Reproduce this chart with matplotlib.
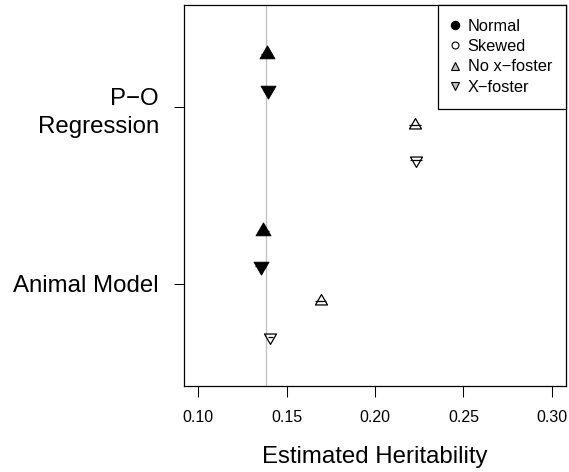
import matplotlib
matplotlib.use("Agg")
import matplotlib.pyplot as plt
from matplotlib.lines import Line2D
import numpy as np

# ---- data ----
methods = ["Animal Model", "P\u2212O\nRegression"]
method_pos = [1, 2]
# series: Normal/No x-foster, Normal/X-foster, Skewed/No x-foster, Skewed/X-foster
series_names = ["Normal, No x-foster", "Normal, X-foster", "Skewed, No x-foster", "Skewed, X-foster"]
offsets = [0.3, 0.1, -0.1, -0.3]
# estimated heritability per method (Animal Model, P-O Regression)
h_normal_nox = [0.1368, 0.1387]
h_normal_xf = [0.1353, 0.1395]
h_skew_nox = [0.1693, 0.2227]
h_skew_xf = [0.1409, 0.2232]
# half-width of the small horizontal interval drawn through each point
ci_normal_nox = [0.003, 0.003]
ci_normal_xf = [0.003, 0.003]
ci_skew_nox = [0.0032, 0.0032]
ci_skew_xf = [0.0014, 0.0033]
true_h = 0.1383
xticks = [0.10, 0.15, 0.20, 0.25, 0.30]
xtick_labels = ["0.10", "0.15", "0.20", "0.25", "0.30"]
legend_labels = ["Normal", "Skewed", "No x\u2212foster", "X\u2212foster"]

plt.rcParams['font.family'] = ['Liberation Sans', 'DejaVu Sans']

fig = plt.figure(figsize=(5.69, 4.72), dpi=100)
W, H = 569, 472
ax = fig.add_axes([184 / W, (H - 386) / H, (566 - 184) / W, (386 - 5) / H])

# custom triangles centred on their centroid (like R pch 2/6/17/25)
s3 = np.sqrt(3)
tri_up = [(0, 2), (-s3, -1), (s3, -1), (0, 2)]
tri_dn = [(0, -2), (-s3, 1), (s3, 1), (0, -2)]

ax.axvline(true_h, color="#BEBEBE", lw=0.9, zorder=1)

vals = [h_normal_nox, h_normal_xf, h_skew_nox, h_skew_xf]
cis = [ci_normal_nox, ci_normal_xf, ci_skew_nox, ci_skew_xf]
markers = [tri_up, tri_dn, tri_up, tri_dn]
filled = [True, True, False, False]
for v, c, off, mk, fl in zip(vals, cis, offsets, markers, filled):
    ys = [p + off for p in method_pos]
    ax.hlines(ys, [a - b for a, b in zip(v, c)], [a + b for a, b in zip(v, c)],
              color="black", lw=0.9, zorder=2)
    if fl:
        ax.plot(v, ys, linestyle="none", marker=mk, markersize=12.5,
                markerfacecolor="black", markeredgecolor="black", markeredgewidth=0.6, zorder=3)
    else:
        ax.plot(v, ys, linestyle="none", marker=mk, markersize=10,
                markerfacecolor="none", markeredgecolor="black", markeredgewidth=0.9, zorder=3)

ax.set_xlim(0.092, 0.308)
ax.set_ylim(0.42, 2.58)
ax.set_xticks(xticks)
ax.set_xticklabels(xtick_labels, fontsize=11.5)
ax.set_yticks(method_pos)
ax.set_yticklabels(methods, fontsize=17.3)
for lab in ax.get_yticklabels():
    lab.set_linespacing(1.35)
ax.tick_params(axis="x", length=8, width=0.75, pad=9)
ax.tick_params(axis="y", length=7, width=0.75, pad=11)
for sp in ax.spines.values():
    sp.set_linewidth(0.9)
    sp.set_color("black")

fig.text(375 / W, (H - 463) / H, "Estimated Heritability", fontsize=17.3,
         ha="center", va="baseline")

handles = [
    Line2D([], [], linestyle="none", marker="o", markersize=5.8, markerfacecolor="black", markeredgecolor="black"),
    Line2D([], [], linestyle="none", marker="o", markersize=5.0, markerfacecolor="white", markeredgecolor="black", markeredgewidth=0.8),
    Line2D([], [], linestyle="none", marker="^", markersize=5.4, markerfacecolor="#BEBEBE", markeredgecolor="black", markeredgewidth=0.8),
    Line2D([], [], linestyle="none", marker="v", markersize=5.4, markerfacecolor="#BEBEBE", markeredgecolor="black", markeredgewidth=0.8),
]
leg = ax.legend(handles, legend_labels, loc="upper right", fontsize=11.8,
                frameon=True, fancybox=False, framealpha=1, edgecolor="black",
                borderaxespad=0, borderpad=0.85, handlelength=0.4, handletextpad=0.55,
                labelspacing=0.32)
leg.get_frame().set_linewidth(0.9)

fig.savefig("out.png", dpi=100)
